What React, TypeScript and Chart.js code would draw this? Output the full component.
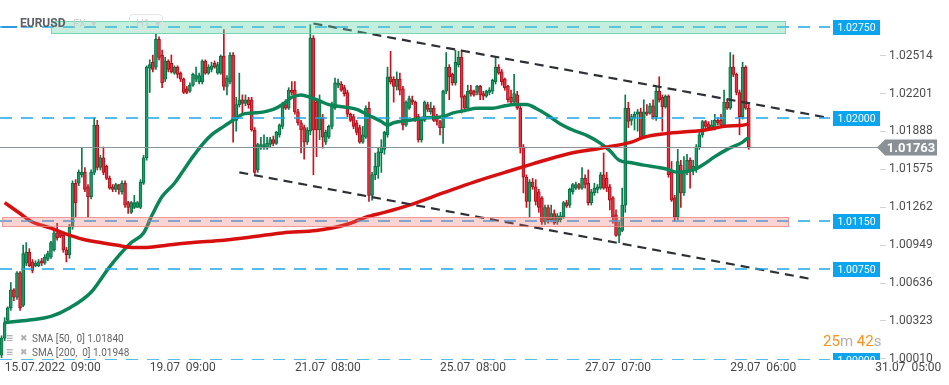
import React, { useEffect, useRef } from "react";
import { Chart, registerables } from "chart.js";
Chart.register(...registerables);

// ---- candle data (EURUSD, H1) ----
const OPEN = [
  1.0004,1.0018,1.0033,1.0043,1.0058,1.0052,1.0072,1.0045,1.0080,1.0089,
  1.0081,1.0078,1.0078,1.0082,1.0080,1.0083,1.0085,1.0091,1.0105,1.0105,
  1.0103,1.0091,1.0087,1.0110,1.0146,1.0146,1.0153,1.0155,1.0143,1.0135,
  1.0155,1.0194,1.0159,1.0167,1.0160,1.0150,1.0143,1.0141,1.0145,1.0139,
  1.0146,1.0130,1.0122,1.0126,1.0126,1.0126,1.0146,1.0167,1.0241,1.0246,
  1.0242,1.0265,1.0252,1.0232,1.0247,1.0245,1.0237,1.0242,1.0237,1.0232,
  1.0224,1.0222,1.0227,1.0232,1.0230,1.0230,1.0247,1.0237,1.0240,1.0245,
  1.0237,1.0237,1.0251,1.0226,1.0230,1.0252,1.0198,1.0211,1.0215,1.0212,
  1.0215,1.0215,1.0190,1.0157,1.0175,1.0176,1.0175,1.0178,1.0182,1.0179,
  1.0186,1.0193,1.0211,1.0208,1.0223,1.0223,1.0205,1.0196,1.0192,1.0180,
  1.0189,1.0266,1.0213,1.0190,1.0200,1.0180,1.0184,1.0193,1.0208,1.0227,
  1.0228,1.0225,1.0221,1.0203,1.0201,1.0196,1.0192,1.0180,1.0184,1.0208,
  1.0136,1.0153,1.0160,1.0171,1.0174,1.0186,1.0234,1.0232,1.0226,1.0232,
  1.0224,1.0194,1.0208,1.0215,1.0213,1.0201,1.0182,1.0198,1.0211,1.0205,
  1.0208,1.0201,1.0197,1.0192,1.0222,1.0242,1.0236,1.0229,1.0244,1.0250,
  1.0218,1.0208,1.0223,1.0222,1.0221,1.0226,1.0220,1.0218,1.0221,1.0222,
  1.0230,1.0242,1.0238,1.0232,1.0226,1.0217,1.0213,1.0219,1.0208,1.0176,
  1.0151,1.0131,1.0147,1.0143,1.0139,1.0134,1.0114,1.0126,1.0116,1.0121,
  1.0114,1.0116,1.0118,1.0130,1.0128,1.0139,1.0142,1.0145,1.0142,1.0150,
  1.0146,1.0130,1.0138,1.0141,1.0142,1.0153,1.0150,1.0143,1.0134,1.0120,
  1.0103,1.0107,1.0128,1.0208,1.0198,1.0200,1.0203,1.0205,1.0184,1.0205,
  1.0204,1.0210,1.0201,1.0222,1.0217,1.0209,1.0218,1.0155,1.0134,1.0118,
  1.0161,1.0138,1.0155,1.0165,1.0157,1.0157,1.0176,1.0186,1.0197,1.0195,
  1.0192,1.0192,1.0198,1.0198,1.0194,1.0213,1.0208,1.0242,1.0236,1.0221,
  1.0201,1.0242,1.0208,
];
const CLOSE = [
  1.0018,1.0031,1.0043,1.0058,1.0052,1.0072,1.0043,1.0088,1.0089,1.0078,
  1.0074,1.0080,1.0081,1.0080,1.0085,1.0088,1.0097,1.0105,1.0101,1.0102,
  1.0091,1.0087,1.0110,1.0146,1.0130,1.0155,1.0155,1.0141,1.0135,1.0155,
  1.0194,1.0159,1.0167,1.0155,1.0150,1.0142,1.0141,1.0145,1.0141,1.0146,
  1.0128,1.0126,1.0130,1.0130,1.0130,1.0147,1.0167,1.0242,1.0244,1.0240,
  1.0265,1.0250,1.0229,1.0247,1.0240,1.0238,1.0242,1.0236,1.0232,1.0221,
  1.0221,1.0227,1.0236,1.0235,1.0235,1.0247,1.0237,1.0242,1.0243,1.0242,
  1.0244,1.0251,1.0226,1.0233,1.0252,1.0198,1.0211,1.0215,1.0212,1.0215,
  1.0211,1.0190,1.0155,1.0178,1.0178,1.0178,1.0179,1.0182,1.0179,1.0188,
  1.0194,1.0211,1.0208,1.0223,1.0221,1.0205,1.0196,1.0190,1.0180,1.0190,
  1.0266,1.0190,1.0190,1.0215,1.0184,1.0188,1.0193,1.0211,1.0229,1.0229,
  1.0223,1.0220,1.0203,1.0198,1.0193,1.0188,1.0180,1.0186,1.0208,1.0136,
  1.0153,1.0160,1.0172,1.0176,1.0188,1.0234,1.0230,1.0226,1.0232,1.0223,
  1.0194,1.0213,1.0216,1.0213,1.0198,1.0182,1.0198,1.0213,1.0207,1.0208,
  1.0198,1.0197,1.0192,1.0222,1.0242,1.0234,1.0229,1.0246,1.0250,1.0217,
  1.0208,1.0222,1.0220,1.0219,1.0226,1.0219,1.0218,1.0222,1.0223,1.0231,
  1.0242,1.0237,1.0230,1.0225,1.0215,1.0213,1.0220,1.0208,1.0175,1.0151,
  1.0131,1.0147,1.0143,1.0131,1.0126,1.0114,1.0126,1.0116,1.0121,1.0113,
  1.0119,1.0119,1.0130,1.0127,1.0141,1.0145,1.0145,1.0142,1.0150,1.0145,
  1.0130,1.0139,1.0142,1.0143,1.0153,1.0142,1.0142,1.0132,1.0118,1.0103,
  1.0109,1.0128,1.0208,1.0197,1.0201,1.0203,1.0205,1.0184,1.0205,1.0203,
  1.0210,1.0201,1.0222,1.0215,1.0209,1.0218,1.0153,1.0132,1.0118,1.0164,
  1.0138,1.0155,1.0165,1.0157,1.0160,1.0176,1.0186,1.0197,1.0193,1.0192,
  1.0194,1.0198,1.0196,1.0194,1.0213,1.0208,1.0242,1.0236,1.0221,1.0201,
  1.0242,1.0208,1.0176,
];
const HIGH = [
  1.0020,1.0035,1.0044,1.0064,1.0059,1.0073,1.0073,1.0095,1.0097,1.0092,
  1.0083,1.0082,1.0083,1.0084,1.0087,1.0090,1.0098,1.0109,1.0113,1.0107,
  1.0105,1.0093,1.0112,1.0148,1.0149,1.0157,1.0175,1.0159,1.0145,1.0157,
  1.0200,1.0198,1.0169,1.0176,1.0161,1.0152,1.0145,1.0146,1.0145,1.0148,
  1.0148,1.0131,1.0131,1.0136,1.0131,1.0149,1.0169,1.0243,1.0248,1.0252,
  1.0269,1.0267,1.0256,1.0250,1.0248,1.0252,1.0243,1.0243,1.0238,1.0233,
  1.0226,1.0229,1.0237,1.0242,1.0237,1.0248,1.0248,1.0244,1.0246,1.0247,
  1.0246,1.0252,1.0273,1.0235,1.0254,1.0254,1.0217,1.0237,1.0219,1.0219,
  1.0217,1.0217,1.0192,1.0179,1.0184,1.0186,1.0184,1.0184,1.0185,1.0189,
  1.0195,1.0213,1.0215,1.0225,1.0230,1.0230,1.0207,1.0198,1.0194,1.0192,
  1.0277,1.0268,1.0215,1.0219,1.0203,1.0190,1.0194,1.0213,1.0233,1.0232,
  1.0230,1.0227,1.0223,1.0204,1.0203,1.0198,1.0194,1.0193,1.0210,1.0213,
  1.0155,1.0171,1.0175,1.0182,1.0189,1.0242,1.0255,1.0234,1.0238,1.0237,
  1.0226,1.0214,1.0218,1.0218,1.0214,1.0203,1.0200,1.0214,1.0213,1.0213,
  1.0210,1.0203,1.0198,1.0223,1.0254,1.0244,1.0237,1.0256,1.0255,1.0256,
  1.0219,1.0227,1.0227,1.0223,1.0227,1.0227,1.0222,1.0223,1.0225,1.0232,
  1.0250,1.0244,1.0240,1.0233,1.0227,1.0223,1.0236,1.0222,1.0210,1.0178,
  1.0153,1.0149,1.0150,1.0149,1.0141,1.0135,1.0128,1.0128,1.0128,1.0124,
  1.0121,1.0122,1.0131,1.0132,1.0142,1.0146,1.0147,1.0146,1.0159,1.0153,
  1.0157,1.0141,1.0146,1.0145,1.0155,1.0171,1.0155,1.0145,1.0135,1.0124,
  1.0114,1.0142,1.0219,1.0213,1.0203,1.0205,1.0207,1.0208,1.0215,1.0211,
  1.0212,1.0215,1.0225,1.0234,1.0219,1.0219,1.0219,1.0164,1.0136,1.0174,
  1.0165,1.0168,1.0170,1.0167,1.0165,1.0178,1.0188,1.0198,1.0198,1.0197,
  1.0198,1.0203,1.0200,1.0203,1.0223,1.0215,1.0254,1.0252,1.0237,1.0223,
  1.0246,1.0243,1.0211,
];
const LOW = [
  1.0002,1.0016,1.0031,1.0041,1.0049,1.0050,1.0041,1.0044,1.0078,1.0077,
  1.0072,1.0077,1.0077,1.0078,1.0079,1.0082,1.0084,1.0090,1.0099,1.0101,
  1.0089,1.0081,1.0084,1.0108,1.0118,1.0144,1.0151,1.0139,1.0118,1.0133,
  1.0153,1.0157,1.0157,1.0153,1.0149,1.0141,1.0139,1.0139,1.0137,1.0137,
  1.0126,1.0121,1.0121,1.0125,1.0126,1.0125,1.0145,1.0165,1.0221,1.0238,
  1.0240,1.0248,1.0225,1.0230,1.0238,1.0237,1.0236,1.0233,1.0230,1.0220,
  1.0220,1.0221,1.0226,1.0230,1.0228,1.0228,1.0236,1.0236,1.0238,1.0241,
  1.0236,1.0236,1.0223,1.0219,1.0228,1.0180,1.0189,1.0209,1.0203,1.0210,
  1.0208,1.0189,1.0154,1.0155,1.0174,1.0174,1.0174,1.0176,1.0177,1.0178,
  1.0184,1.0191,1.0207,1.0207,1.0219,1.0203,1.0194,1.0171,1.0166,1.0178,
  1.0186,1.0153,1.0168,1.0182,1.0175,1.0178,1.0183,1.0191,1.0207,1.0225,
  1.0222,1.0218,1.0201,1.0197,1.0191,1.0186,1.0179,1.0179,1.0183,1.0131,
  1.0132,1.0149,1.0150,1.0155,1.0170,1.0184,1.0228,1.0213,1.0223,1.0219,
  1.0190,1.0193,1.0207,1.0211,1.0197,1.0180,1.0180,1.0197,1.0205,1.0203,
  1.0197,1.0194,1.0186,1.0179,1.0220,1.0215,1.0227,1.0227,1.0242,1.0204,
  1.0207,1.0207,1.0218,1.0218,1.0219,1.0215,1.0215,1.0217,1.0219,1.0220,
  1.0228,1.0236,1.0227,1.0223,1.0213,1.0211,1.0211,1.0207,1.0171,1.0138,
  1.0126,1.0118,1.0141,1.0128,1.0122,1.0112,1.0112,1.0113,1.0114,1.0112,
  1.0112,1.0114,1.0117,1.0126,1.0126,1.0137,1.0141,1.0141,1.0141,1.0142,
  1.0128,1.0128,1.0136,1.0138,1.0141,1.0141,1.0139,1.0124,1.0113,1.0102,
  1.0097,1.0106,1.0122,1.0192,1.0194,1.0190,1.0189,1.0183,1.0183,1.0202,
  1.0203,1.0199,1.0198,1.0213,1.0189,1.0208,1.0151,1.0131,1.0115,1.0116,
  1.0126,1.0136,1.0153,1.0142,1.0153,1.0155,1.0174,1.0184,1.0190,1.0190,
  1.0190,1.0190,1.0194,1.0193,1.0193,1.0207,1.0207,1.0234,1.0219,1.0186,
  1.0199,1.0207,1.0174,
];

// ---- moving averages (read at sample bars) ----
const SMA50_IDX = [1,9,16,22,29,35,42,46,49,52,56,59,62,65,68,72,75,78,81,85,88,91,94,97,100,103,106,111,115,119,123,125,127,132,137,143,146,150,154,159,163,166,170,173,177,181,185,190,194,197,200,204,208,215,219,224,227,231,235,240,242];
const SMA50_VAL = [1.0031,1.0033,1.0036,1.0043,1.0056,1.0077,1.0097,1.0105,1.0121,1.0135,1.0146,1.0157,1.0168,1.0178,1.0186,1.0193,1.0198,1.0203,1.0204,1.0205,1.0207,1.0211,1.0217,1.0219,1.0217,1.0214,1.0211,1.0209,1.0207,1.0202,1.0197,1.0194,1.0196,1.0198,1.0200,1.0201,1.0204,1.0206,1.0208,1.0208,1.0210,1.0211,1.0211,1.0208,1.0202,1.0195,1.0190,1.0185,1.0179,1.0173,1.0165,1.0163,1.0161,1.0158,1.0155,1.0157,1.0161,1.0168,1.0174,1.0180,1.0184];
const SMA200_IDX = [1,6,10,16,21,26,32,37,43,47,54,62,72,82,91,102,107,113,118,124,132,143,153,163,172,183,194,204,208,215,224,228,234,240,242];
const SMA200_VAL = [1.0130,1.0121,1.0114,1.0109,1.0104,1.0100,1.0097,1.0095,1.0093,1.0093,1.0095,1.0097,1.0099,1.0102,1.0105,1.0107,1.0109,1.0113,1.0118,1.0122,1.0128,1.0138,1.0147,1.0155,1.0162,1.0170,1.0175,1.0180,1.0184,1.0187,1.0189,1.0190,1.0193,1.0194,1.0195];

// ---- trend lines (bar index, price) ----
const TREND_UPPER_IDX = [101, 268];
const TREND_UPPER_VAL = [1.0278, 1.0200];
const TREND_LOWER_IDX = [77, 262];
const TREND_LOWER_VAL = [1.0155, 1.0067];

// ---- levels & zones ----
const LEVELS = [1.0275, 1.02, 1.0115, 1.0075, 1.0];
const LEVEL_LABELS = ["1.02750", "1.02000", "1.01150", "1.00750", "1.00000"];
const LAST_PRICE = 1.01763;
const LAST_LABEL = "1.01763";
const GREEN_ZONE = [1.0269, 1.0280];
const GREEN_ZONE_IDX = [16, 254];
const RED_ZONE = [1.0110, 1.0118];
const RED_ZONE_IDX = [0, 255];

// ---- axes ----
const SLOT_COUNT = 285;
const FIRST_TICK = 1;
const TICK_STEP = 47;
const X_TICK_LABELS = ["15.07.2022  09:00", "19.07  09:00", "21.07  08:00", "25.07  08:00", "27.07  07:00", "29.07  06:00", "31.07  05:00"];
const Y_TICKS = [1.0001, 1.00323, 1.00636, 1.00949, 1.01262, 1.01575, 1.01888, 1.02201, 1.02514];
const Y_MIN = 1.0;
const Y_MAX = 1.02974;

const sparse = (idx: number[], val: number[]) => {
  const a: (number | null)[] = new Array(SLOT_COUNT).fill(null);
  idx.forEach((k, j) => { a[k] = val[j]; });
  return a;
};

const overlayPlugin = {
  id: "overlay",
  afterDatasetsDraw(chart: any) {
    const { ctx, chartArea: a, scales } = chart;
    const xs = scales.x, ys = scales.y;
    ctx.save();
    ctx.beginPath();
    ctx.rect(a.left, a.top, a.right - a.left, a.bottom - a.top);
    ctx.clip();
    const lineEnd = a.right - 50;
    ctx.strokeStyle = "#1fa6ea";
    ctx.lineWidth = 1.5;
    ctx.setLineDash([12, 9]);
    LEVELS.forEach((v) => {
      const y = Math.round(ys.getPixelForValue(v));
      ctx.beginPath();
      ctx.moveTo(a.left, y);
      ctx.lineTo(lineEnd, y);
      ctx.stroke();
    });
    ctx.setLineDash([]);
    const band = (vals: number[], idx: number[], fill: string, stroke: string) => {
      const x0 = Math.round(xs.getPixelForValue(idx[0]));
      const x1 = Math.round(xs.getPixelForValue(idx[1]));
      const y0 = Math.round(ys.getPixelForValue(vals[1]));
      const y1 = Math.round(ys.getPixelForValue(vals[0]));
      ctx.fillStyle = fill;
      ctx.fillRect(x0, y0, x1 - x0, y1 - y0);
      ctx.strokeStyle = stroke;
      ctx.lineWidth = 1;
      ctx.strokeRect(x0 + 0.5, y0 + 0.5, x1 - x0 - 1, y1 - y0 - 1);
    };
    band(GREEN_ZONE, GREEN_ZONE_IDX, "rgba(100,212,170,0.38)", "rgba(90,205,160,0.7)");
    band(RED_ZONE, RED_ZONE_IDX, "rgba(240,110,110,0.3)", "rgba(238,130,130,0.7)");
    const yp = Math.round(ys.getPixelForValue(LAST_PRICE)) + 0.5;
    ctx.strokeStyle = "#8d9398";
    ctx.lineWidth = 1;
    ctx.beginPath();
    ctx.moveTo(a.left, yp);
    ctx.lineTo(a.right, yp);
    ctx.stroke();
    ctx.font = "10.5px Roboto";
    ctx.textAlign = "center";
    ctx.textBaseline = "middle";
    LEVELS.forEach((v, k) => {
      const y = Math.round(ys.getPixelForValue(v));
      ctx.fillStyle = "#0aa5ee";
      ctx.fillRect(a.right - 47, y - 7, 47, 15);
      ctx.fillStyle = "#ffffff";
      ctx.fillText(LEVEL_LABELS[k], a.right - 23.5, y + 1);
    });
    ctx.restore();
  },
  afterDraw(chart: any) {
    const { ctx, chartArea: a, scales } = chart;
    const y = Math.round(scales.y.getPixelForValue(LAST_PRICE)) + 0.5;
    ctx.save();
    ctx.fillStyle = "#8a9196";
    ctx.beginPath();
    ctx.moveTo(a.right - 3, y);
    ctx.lineTo(a.right + 5, y - 8);
    ctx.lineTo(a.right + 57, y - 8);
    ctx.lineTo(a.right + 57, y + 8);
    ctx.lineTo(a.right + 5, y + 8);
    ctx.closePath();
    ctx.fill();
    ctx.fillStyle = "#ffffff";
    ctx.font = "bold 13px Roboto";
    ctx.textAlign = "center";
    ctx.textBaseline = "middle";
    ctx.fillText(LAST_LABEL, a.right + 31, y + 1);
    ctx.restore();
  },
};

export default function App() {
  const ref = useRef<HTMLCanvasElement>(null);
  useEffect(() => {
    if (!ref.current) return;
    const labels = Array.from({ length: SLOT_COUNT }, (_, i) => String(i));
    const up = OPEN.map((o, i) => CLOSE[i] >= o);
    const chart = new Chart(ref.current, {
      type: "bar",
      data: {
        labels,
        datasets: [
          {
            type: "line",
            data: sparse(TREND_UPPER_IDX, TREND_UPPER_VAL),
            borderColor: "#2c3036",
            borderWidth: 2.2,
            borderDash: [9, 6],
            pointRadius: 0,
            spanGaps: true,
            order: 0,
          } as any,
          {
            type: "line",
            data: sparse(TREND_LOWER_IDX, TREND_LOWER_VAL),
            borderColor: "#2c3036",
            borderWidth: 2.2,
            borderDash: [9, 6],
            pointRadius: 0,
            spanGaps: true,
            order: 0,
          } as any,
          {
            type: "line",
            data: sparse(SMA200_IDX, SMA200_VAL),
            borderColor: "#d7100f",
            borderWidth: 3.5,
            pointRadius: 0,
            spanGaps: true,
            cubicInterpolationMode: "monotone",
            order: 1,
          } as any,
          {
            type: "line",
            data: sparse(SMA50_IDX, SMA50_VAL),
            borderColor: "#0b8558",
            borderWidth: 3.5,
            pointRadius: 0,
            spanGaps: true,
            cubicInterpolationMode: "monotone",
            order: 1,
          } as any,
          {
            type: "bar",
            data: OPEN.map((o, i) => [o, CLOSE[i]]),
            backgroundColor: up.map((u) => (u ? "#1a9e67" : "#e8303e")),
            borderColor: up.map((u) => (u ? "#0a6e43" : "#a8121e")),
            borderWidth: 1,
            borderSkipped: false,
            barThickness: 3,
            minBarLength: 1,
            grouped: false,
            order: 2,
          } as any,
          {
            type: "bar",
            data: LOW.map((l, i) => [l, HIGH[i]]),
            backgroundColor: up.map((u) => (u ? "#0b7a4c" : "#c4141f")),
            barThickness: 1,
            grouped: false,
            order: 3,
          } as any,
        ],
      },
      options: {
        responsive: false,
        maintainAspectRatio: false,
        devicePixelRatio: 1,
        animation: false,
        events: [],
        layout: { padding: 0 },
        plugins: { legend: { display: false }, tooltip: { enabled: false } },
        scales: {
          x: {
            type: "category",
            offset: true,
            grid: { display: false, drawTicks: false, offset: false },
            border: { display: false },
            ticks: {
              autoSkip: false,
              maxRotation: 0,
              minRotation: 0,
              align: "start",
              padding: 1,
              color: "#474747",
              font: { family: "Roboto", size: 12 },
              callback: (_v: any, i: number) => {
                const k = i - FIRST_TICK;
                return k >= 0 && k % TICK_STEP === 0 ? X_TICK_LABELS[k / TICK_STEP] ?? "" : "";
              },
            },
            afterFit: (s: any) => {
              s.height = 25;
              s.paddingLeft = 0;
              s.paddingRight = 0;
            },
          },
          y: {
            position: "right",
            min: Y_MIN,
            max: Y_MAX,
            grid: { drawOnChartArea: false, drawTicks: true, tickLength: 6, color: "#d4d4d4" },
            border: { display: false },
            afterBuildTicks: (s: any) => {
              s.ticks = Y_TICKS.map((v) => ({ value: v }));
            },
            ticks: {
              padding: 3,
              color: "#4d4d4d",
              font: { family: "Roboto", size: 12 },
              callback: (v: any) => Number(v).toFixed(5),
            },
            afterFit: (s: any) => {
              s.width = 69;
              s.paddingTop = 0;
              s.paddingBottom = 0;
            },
          },
        },
      } as any,
      plugins: [overlayPlugin],
    });
    return () => chart.destroy();
  }, []);

  const legendRow = (top: number, text: string) => (
    <div style={{ position: "absolute", left: 6, top, height: 12, display: "flex", alignItems: "center", fontSize: 10, color: "#666", whiteSpace: "pre" }}>
      <span style={{ color: "#a0a0a0", fontSize: 12, width: 14 }}>≡</span>
      <span style={{ color: "#b0b0b0", fontSize: 9, width: 12 }}>✖</span>
      <span>{text}</span>
    </div>
  );

  return (
    <div style={{ position: "fixed", left: 0, top: 0, width: 949, height: 385, background: "#fff", overflow: "hidden", fontFamily: "Roboto, sans-serif" }}>
      <canvas ref={ref} width={949} height={385} style={{ position: "absolute", left: 0, top: 0, width: 949, height: 385 }} />
      <div style={{ position: "absolute", left: 2, top: 26, width: 15, height: 2, background: "#2a9be0" }} />
      <div style={{ position: "absolute", left: 20, top: 16, fontSize: 12, fontWeight: 700, color: "#5a6066", lineHeight: "14px" }}>EURUSD</div>
      <div style={{ position: "absolute", left: 73, top: 17, fontSize: 11, color: "#c9cdd0", lineHeight: "13px", whiteSpace: "pre" }}>FX  ▾</div>
      <div style={{ position: "absolute", left: 129, top: 14, width: 34, height: 17, border: "1px solid #e4e4e4", borderRadius: 4, fontSize: 11, color: "#c9cdd0", lineHeight: "17px", paddingLeft: 6, boxSizing: "border-box", whiteSpace: "pre" }}>H1  ▾</div>
      {legendRow(332, "SMA [50,  0] 1.01840")}
      {legendRow(346, "SMA [200,  0] 1.01948")}
      <div style={{ position: "absolute", left: 823, top: 333, fontSize: 15, lineHeight: "16px", whiteSpace: "pre" }}>
        <span style={{ color: "#f7931e" }}>25</span>
        <span style={{ color: "#b0b0b0" }}>m </span>
        <span style={{ color: "#f7931e" }}>42</span>
        <span style={{ color: "#b0b0b0" }}>s</span>
      </div>
    </div>
  );
}
